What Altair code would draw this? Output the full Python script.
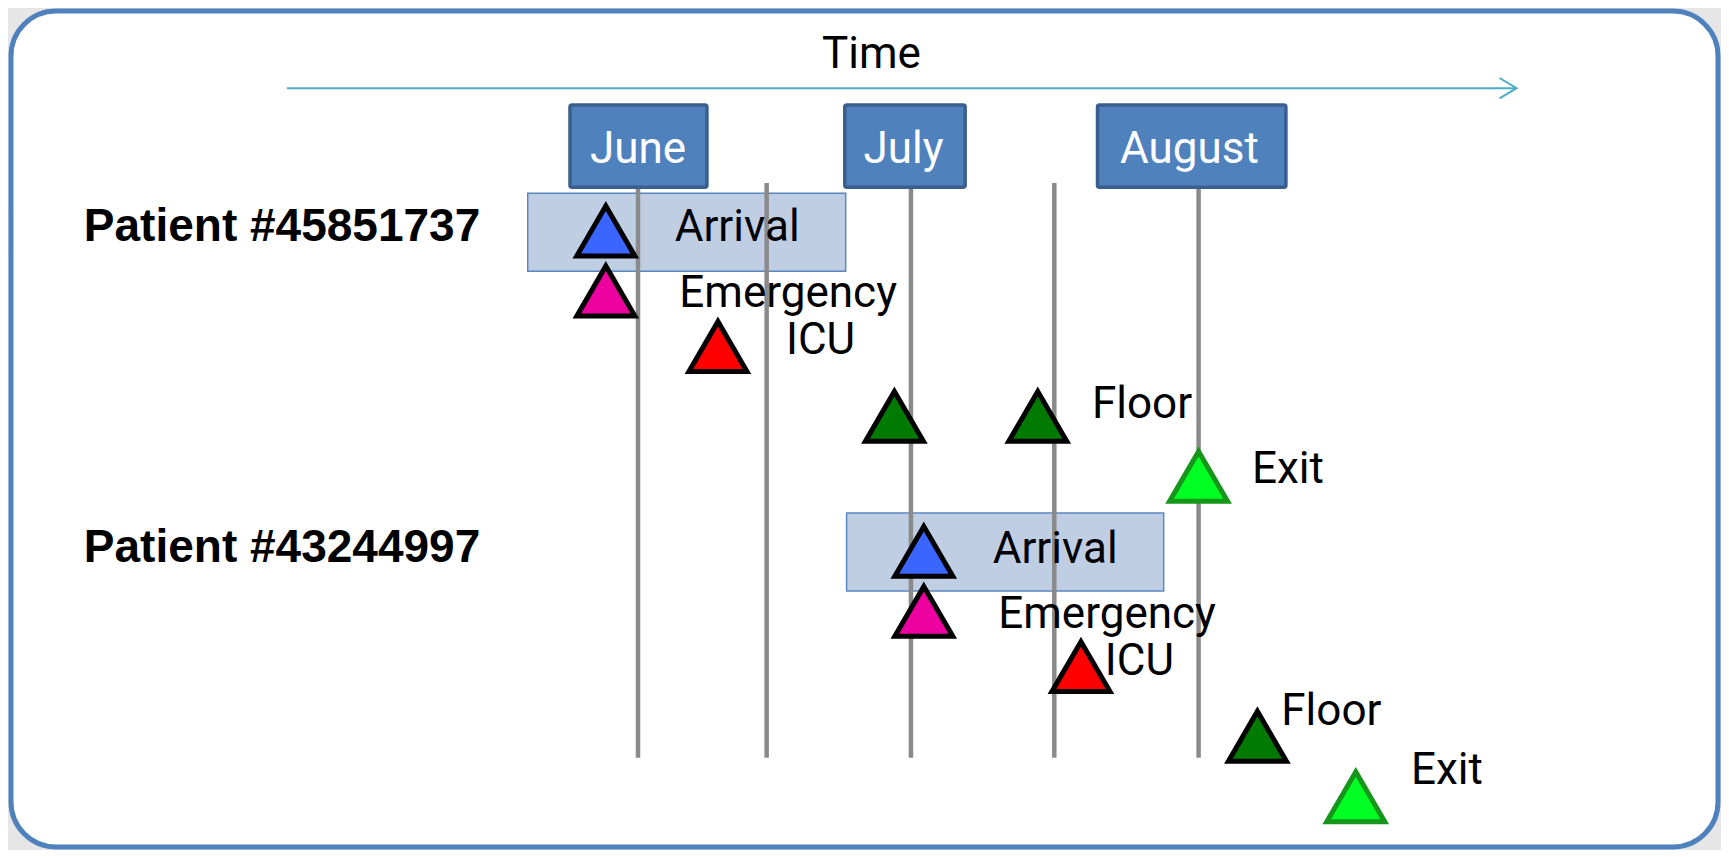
import altair as alt
import pandas as pd

# ---------------- data ----------------
# horizontal position: days after 1 June; vertical position: "lane" (row) number
months = ["June", "July", "August"]
month_center_day = [0.0, 28.9, 60.0]
month_box_start = [-7.4, 22.5, 50.0]
month_box_end = [7.5, 35.6, 70.5]

grid_days = [0.0, 14.0, 29.7, 45.3, 61.0]

patients = ["Patient #45851737", "Patient #43244997"]
patient_label_lane = [0.17, 5.52]
patient_box_start = [-12.0, 22.7]
patient_box_end = [22.6, 57.2]
patient_box_top = [-0.63, 4.70]
patient_box_bottom = [0.67, 6.00]

event_patient = [0, 0, 0, 0, 0, 0, 1, 1, 1, 1, 1]
event_type = ["Arrival", "Emergency", "ICU", "Floor", "Floor", "Exit",
              "Arrival", "Emergency", "ICU", "Floor", "Exit"]
event_day = [-3.5, -3.5, 8.7, 27.9, 43.5, 61.0,
             31.1, 31.1, 48.2, 67.4, 78.1]
event_lane = [0.0, 1.0, 1.925, 3.09, 3.09, 4.09,
              5.34, 6.34, 7.26, 8.42, 9.43]

label_text = ["Arrival", "Emergency", "ICU", "Floor", "Exit",
              "Arrival", "Emergency", "ICU", "Floor", "Exit"]
label_day = [4.0, 4.5, 16.1, 49.4, 66.8,
             38.6, 39.2, 50.8, 70.0, 84.1]
label_lane = [0.17, 1.27, 2.05, 3.12, 4.20,
              5.53, 6.62, 7.40, 8.23, 9.22]

time_label = "Time"
time_label_day = 25.4
time_label_lane = -2.72
arrow_start_day = -38.2
arrow_end_day = 95.6
arrow_lane = -2.38
month_label_lane = -1.13
month_box_top = -2.10
month_box_bottom = -0.73
grid_top_lane = -0.80
grid_bottom_lane = 8.78
patient_label_day = -60.3

# ---------------- layout ----------------
W, H = 1707, 836
PAD = {"left": 3, "top": 3, "right": 3, "bottom": 3}
X_ORIGIN = 638 - 11      # view px of day 0
PX_PER_DAY = 9.19
Y_ORIGIN = 231 - 11      # view px of lane 0
PX_PER_LANE = 60.0

xs = alt.Scale(domain=[-X_ORIGIN / PX_PER_DAY, (W - X_ORIGIN) / PX_PER_DAY], nice=False, zero=False)
ys = alt.Scale(domain=[-Y_ORIGIN / PX_PER_LANE, (H - Y_ORIGIN) / PX_PER_LANE], nice=False, zero=False, reverse=True)

FONT = "Roboto"
FS = 44

# ---------------- tables ----------------
month_df = pd.DataFrame({"month": months, "c": month_center_day, "x0": month_box_start,
                         "x1": month_box_end, "top": month_box_top, "bot": month_box_bottom,
                         "lab": month_label_lane})
grid_df = pd.DataFrame({"d": grid_days, "y0": grid_top_lane, "y1": grid_bottom_lane})
pat_df = pd.DataFrame({"patient": patients, "lane": patient_label_lane, "x0": patient_box_start,
                       "x1": patient_box_end, "top": patient_box_top, "bot": patient_box_bottom,
                       "ld": patient_label_day})
ev_df = pd.DataFrame({"patient": [patients[i] for i in event_patient], "type": event_type,
                      "day": event_day, "lane": event_lane})
lab_df = pd.DataFrame({"text": label_text, "day": label_day, "lane": label_lane})
arrow_df = pd.DataFrame({"x0": [arrow_start_day], "x1": [arrow_end_day], "y": [arrow_lane]})
time_df = pd.DataFrame({"text": [time_label], "x": [time_label_day], "y": [time_label_lane]})

types = ["Arrival", "Emergency", "ICU", "Floor", "Exit"]
fills = ["#3A66FF", "#EC00A0", "#FF0000", "#007A00", "#00FF22"]
strokes = ["#000000", "#000000", "#000000", "#000000", "#16961A"]

# ---------------- layers ----------------
pshadow = alt.Chart(pat_df).mark_rect(fill="#000000", opacity=0.10).encode(
    x=alt.X("x0:Q", scale=xs, axis=None), x2="x1:Q",
    y=alt.Y("top:Q", scale=ys, axis=None), y2=alt.Y2("bot:Q"),
    yOffset=alt.value(4), xOffset=alt.value(1))

pbox = alt.Chart(pat_df).mark_rect(fill="#C0CEE4", stroke="#5A87C0", strokeWidth=1.5).encode(
    x=alt.X("x0:Q", scale=xs, axis=None), x2="x1:Q",
    y=alt.Y("top:Q", scale=ys, axis=None), y2="bot:Q")

grid = alt.Chart(grid_df).mark_rule(color="#8A8A8A", strokeWidth=4.5).encode(
    x=alt.X("d:Q", scale=xs, axis=None),
    y=alt.Y("y0:Q", scale=ys, axis=None), y2="y1:Q")

mbox = alt.Chart(month_df).mark_rect(fill="#4F81BD", stroke="#3A5F8E", strokeWidth=3.5,
                                     cornerRadius=2).encode(
    x=alt.X("x0:Q", scale=xs, axis=None), x2="x1:Q",
    y=alt.Y("top:Q", scale=ys, axis=None), y2="bot:Q")

mtext = alt.Chart(month_df).mark_text(font=FONT, fontSize=FS, color="white", align="center",
                                      baseline="alphabetic").encode(
    x=alt.X("c:Q", scale=xs, axis=None), y=alt.Y("lab:Q", scale=ys, axis=None), text="month:N")

arrow = alt.Chart(arrow_df).mark_rule(color="#4BACC6", strokeWidth=2).encode(
    x=alt.X("x0:Q", scale=xs, axis=None), x2="x1:Q", y=alt.Y("y:Q", scale=ys, axis=None))

arrowhead = alt.Chart(arrow_df).mark_point(shape="M-1,-0.6L0,0L-1,0.6", size=1156, filled=False,
                                           color="#4BACC6", strokeWidth=2, opacity=1).encode(
    x=alt.X("x1:Q", scale=xs, axis=None), y=alt.Y("y:Q", scale=ys, axis=None))

ttext = alt.Chart(time_df).mark_text(font=FONT, fontSize=FS, color="black", align="center",
                                     baseline="alphabetic").encode(
    x=alt.X("x:Q", scale=xs, axis=None), y=alt.Y("y:Q", scale=ys, axis=None), text="text:N")

tri = alt.Chart(ev_df).mark_point(shape="M0,-0.86L1,0.86L-1,0.86Z", size=3364, filled=True,
                                  strokeWidth=5, opacity=1, strokeJoin="miter").encode(
    x=alt.X("day:Q", scale=xs, axis=None),
    y=alt.Y("lane:Q", scale=ys, axis=None),
    fill=alt.Fill("type:N", scale=alt.Scale(domain=types, range=fills), legend=None),
    stroke=alt.Stroke("type:N", scale=alt.Scale(domain=types, range=strokes), legend=None))

labels = alt.Chart(lab_df).mark_text(font=FONT, fontSize=FS, color="black", align="left",
                                     baseline="alphabetic").encode(
    x=alt.X("day:Q", scale=xs, axis=None), y=alt.Y("lane:Q", scale=ys, axis=None), text="text:N")

plabels = alt.Chart(pat_df).mark_text(font="Liberation Sans", fontWeight="bold", fontSize=46,
                                      color="black", align="left", baseline="alphabetic").encode(
    x=alt.X("ld:Q", scale=xs, axis=None), y=alt.Y("lane:Q", scale=ys, axis=None), text="patient:N")

chart = alt.layer(pshadow, pbox, grid, mbox, mtext, arrow, arrowhead, ttext, tri, labels, plabels).properties(
    width=W, height=H, padding=PAD,
    autosize=alt.AutoSizeParams(type="none"),
    background="#E6E6E6",
).configure_view(
    fill="white", stroke="#4F81BD", strokeWidth=5, cornerRadius=45,
)

chart.save("out.html", embed_options={"renderer": "svg", "actions": False})
